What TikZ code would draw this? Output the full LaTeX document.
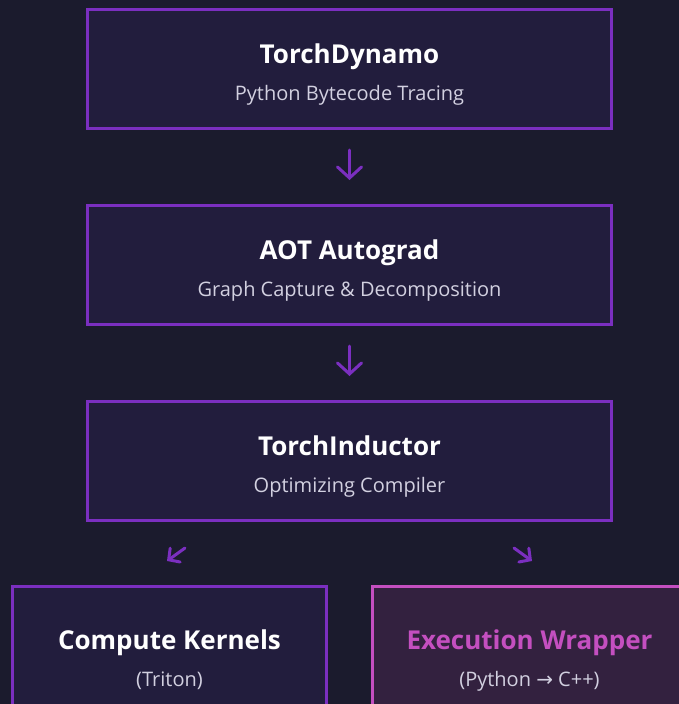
\documentclass[tikz,border=0pt]{standalone}
\usepackage{fontspec}
\setmainfont{Open Sans}
\newfontfamily\symfont{DejaVu Sans}
\usetikzlibrary{positioning,arrows.meta}
\definecolor{bgdark}{HTML}{1B1B2D}
\definecolor{boxfill}{HTML}{221D3D}
\definecolor{boxline}{HTML}{7B2FC0}
\definecolor{hotfill}{HTML}{33213F}
\definecolor{hotline}{HTML}{C44FC0}
\definecolor{subgray}{HTML}{D2D0E0}
\tikzset{
  stage/.style={draw=boxline,fill=boxfill,line width=3pt,minimum width=524pt,minimum height=119pt,inner sep=0pt},
  side/.style={stage,minimum width=314pt,minimum height=138pt,anchor=north west},
  hot/.style={draw=hotline,fill=hotfill},
  title/.style={anchor=base,font=\fontsize{26}{30}\selectfont\bfseries,text=white},
  sub/.style={anchor=base,font=\fontsize{20}{24}\selectfont,text=subgray},
  flow/.style={draw=boxline,line width=3pt,line cap=round,-{Straight Barb[length=11pt,width=24pt,line cap=round]}},
  split/.style={flow,-{Straight Barb[length=8pt,width=17pt,line cap=round]}}
}
\begin{document}
\begin{tikzpicture}[x=1pt,y=-1pt,node distance=74pt]
  \fill[bgdark] (0,0) rectangle (679,704);
  \useasboundingbox (0,0) rectangle (679,704);
  \clip (0,0) rectangle (679,704);

  % main pipeline
  \node[stage] (dynamo) at (349.5,69) {};
  \node[stage,below=of dynamo] (autograd) {};
  \node[stage,below=of autograd] (inductor) {};
  \node[title] (dynamoT) at ([yshift=6pt]dynamo.center) {TorchDynamo};
  \node[sub] (dynamoS) at ([yshift=-31pt]dynamo.center) {Python Bytecode Tracing};
  \node[title] (autogradT) at ([yshift=6pt]autograd.center) {AOT Autograd};
  \node[sub] (autogradS) at ([yshift=-31pt]autograd.center) {Graph Capture \& Decomposition};
  \node[title] (inductorT) at ([yshift=6pt]inductor.center) {TorchInductor};
  \node[sub] (inductorS) at ([yshift=-31pt]inductor.center) {Optimizing Compiler};

  % backends
  \node[side] (kernels) at (11,585) {};
  \node[side,hot] (wrapper) at (371,585) {};
  \node[title] (kernelsT) at ([yshift=6pt]kernels.center) {Compute Kernels};
  \node[sub] (kernelsS) at ([yshift=-31pt]kernels.center) {(Triton)};
  \node[title,text=hotline] (wrapperT) at ([yshift=6pt]wrapper.center) {Execution Wrapper};
  \node[sub] (wrapperS) at ([yshift=-31pt]wrapper.center) {(Python {\symfont→} C++)};

  \draw[flow,shorten <=20pt,shorten >=24pt] (dynamo) -- (autograd);
  \draw[flow,shorten <=20pt,shorten >=24pt] (autograd) -- (inductor);
  \coordinate (leftA) at (185,548);
  \coordinate (leftB) at (167,561);
  \coordinate (rightA) at (514,548);
  \coordinate (rightB) at (532,561);
  \draw[split] (leftA) -- (leftB);
  \draw[split] (rightA) -- (rightB);
\end{tikzpicture}
\end{document}
